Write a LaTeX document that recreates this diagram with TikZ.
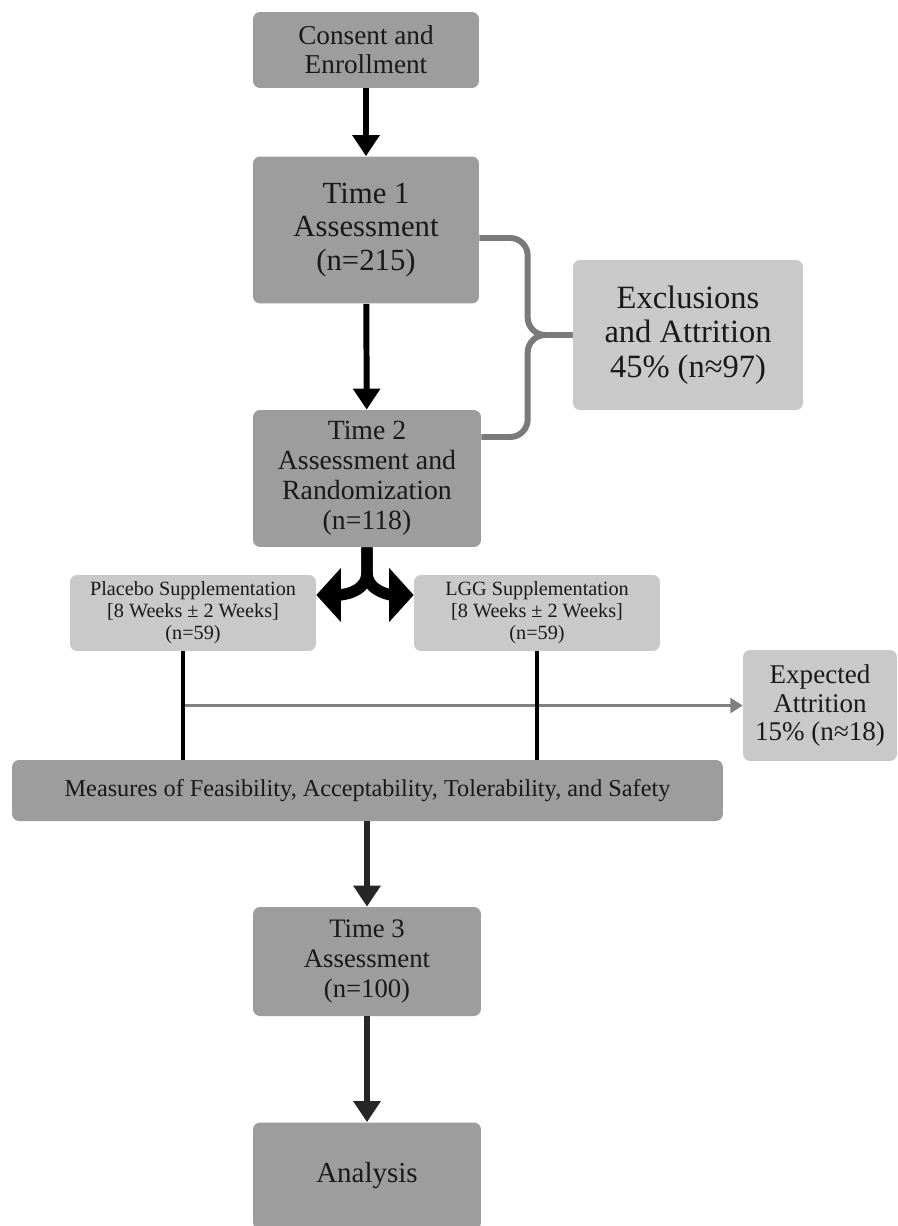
\documentclass[tikz,border=0pt]{standalone}
\usepackage{fontspec}
\setmainfont{Liberation Serif}
\usetikzlibrary{arrows.meta}
\definecolor{darkbox}{HTML}{9D9D9D}
\definecolor{lightbox}{HTML}{C9C9C9}
\definecolor{bracegray}{HTML}{7A7A7A}
\tikzset{
  darkstep/.style={fill=darkbox, rounded corners=4pt, align=center, text=black!90, inner sep=2pt},
  lightstep/.style={fill=lightbox, rounded corners=4pt, align=center, text=black!90, inner sep=2pt},
  flow/.style={line width=3.4pt, -{Triangle[width=15pt,length=12pt]}},
  bar/.style={line width=2.3pt},
  brace/.style={line width=3.4pt, draw=bracegray, rounded corners=10pt},
  thinarrow/.style={line width=1.6pt, draw=gray, -{Triangle[width=8.5pt,length=7pt]}},
  split/.style={line width=6.5pt, -{Triangle[width=30pt,length=14pt]}}
}
\begin{document}
\begin{tikzpicture}[x=0.02cm, y=-0.02cm]
        \useasboundingbox (0,0) rectangle (897,1226);
        \node[darkstep, minimum width=4.52cm, minimum height=1.52cm, font=\fontsize{15.5}{16.5}\selectfont] (consent) at (366,50) {Consent and\\Enrollment};
        \node[darkstep, minimum width=4.52cm, minimum height=2.94cm, font=\fontsize{17.5}{19}\selectfont] (time1) at (366,230) {Time 1\\Assessment\\(n=215)};
        \node[darkstep, minimum width=4.56cm, minimum height=2.74cm, font=\fontsize{15.8}{17}\selectfont] (time2) at (367,478.5) {Time 2\\Assessment and\\Randomization\\(n=118)};
        \node[lightstep, minimum width=4.6cm, minimum height=3cm, font=\fontsize{18.5}{19.5}\selectfont] (excl) at (688,335) {Exclusions\\and Attrition\\45\% (n≈97)};
        \node[lightstep, minimum width=4.92cm, minimum height=1.52cm, font=\fontsize{11.5}{12.5}\selectfont] (placebo) at (193,613) {Placebo Supplementation\\{}[8 Weeks ± 2 Weeks]\\(n=59)};
        \node[lightstep, minimum width=4.92cm, minimum height=1.52cm, font=\fontsize{11.5}{12.5}\selectfont] (lgg) at (537,613) {LGG Supplementation\\{}[8 Weeks ± 2 Weeks]\\(n=59)};
        \node[lightstep, minimum width=3.08cm, minimum height=2.22cm, font=\fontsize{15.4}{16.2}\selectfont] (expected) at (820,705.5) {Expected\\Attrition\\15\% (n≈18)};
        \node[darkstep, minimum width=14.22cm, minimum height=1.22cm, font=\fontsize{13.8}{15}\selectfont] (measures) at (367.5,790.5) {Measures of Feasibility, Acceptability, Tolerability, and Safety};
        \node[darkstep, minimum width=4.56cm, minimum height=2.18cm, font=\fontsize{15.2}{17}\selectfont] (time3) at (367,961.5) {Time 3\\Assessment\\(n=100)};
        \node[darkstep, minimum width=4.56cm, minimum height=2.14cm, font=\fontsize{16.5}{19}\selectfont] (analysis) at (367,1176) {Analysis};
        % main flow
        \draw[flow] (consent) -- (time1);
        \draw[flow] (time1) -- (time2);
        \draw[flow, black!85] (measures.south -| time3.north) -- (time3.north);
        \draw[flow, black!85] (time3) -- (analysis);
        % brace to exclusions
        \coordinate (bmid) at ([xshift=-0.9cm]excl.west);
        \draw[brace] ([yshift=-0.16cm]time1.east) -| (bmid) -- (excl.west);
        \draw[brace] ([yshift=0.83cm]time2.east) -| (bmid) -- (excl.west);
        % randomization split
        \coordinate (fork) at ([yshift=-0.5cm]time2.south);
        \draw[split] (time2.south) -- (fork) to[out=-90,in=0] ([yshift=0.36cm]placebo.east);
        \draw[split] (time2.south) -- (fork) to[out=-90,in=180] ([yshift=0.36cm]lgg.west);
        % supplementation arms
        \coordinate (pl) at ([xshift=-0.2cm]placebo.south);
        \draw[thinarrow] (pl |- expected.west) -- (expected.west);
        \draw[bar] (pl) -- (pl |- measures.north);
        \draw[bar] (lgg.south) -- (lgg.south |- measures.north);
    \end{tikzpicture}
\end{document}
